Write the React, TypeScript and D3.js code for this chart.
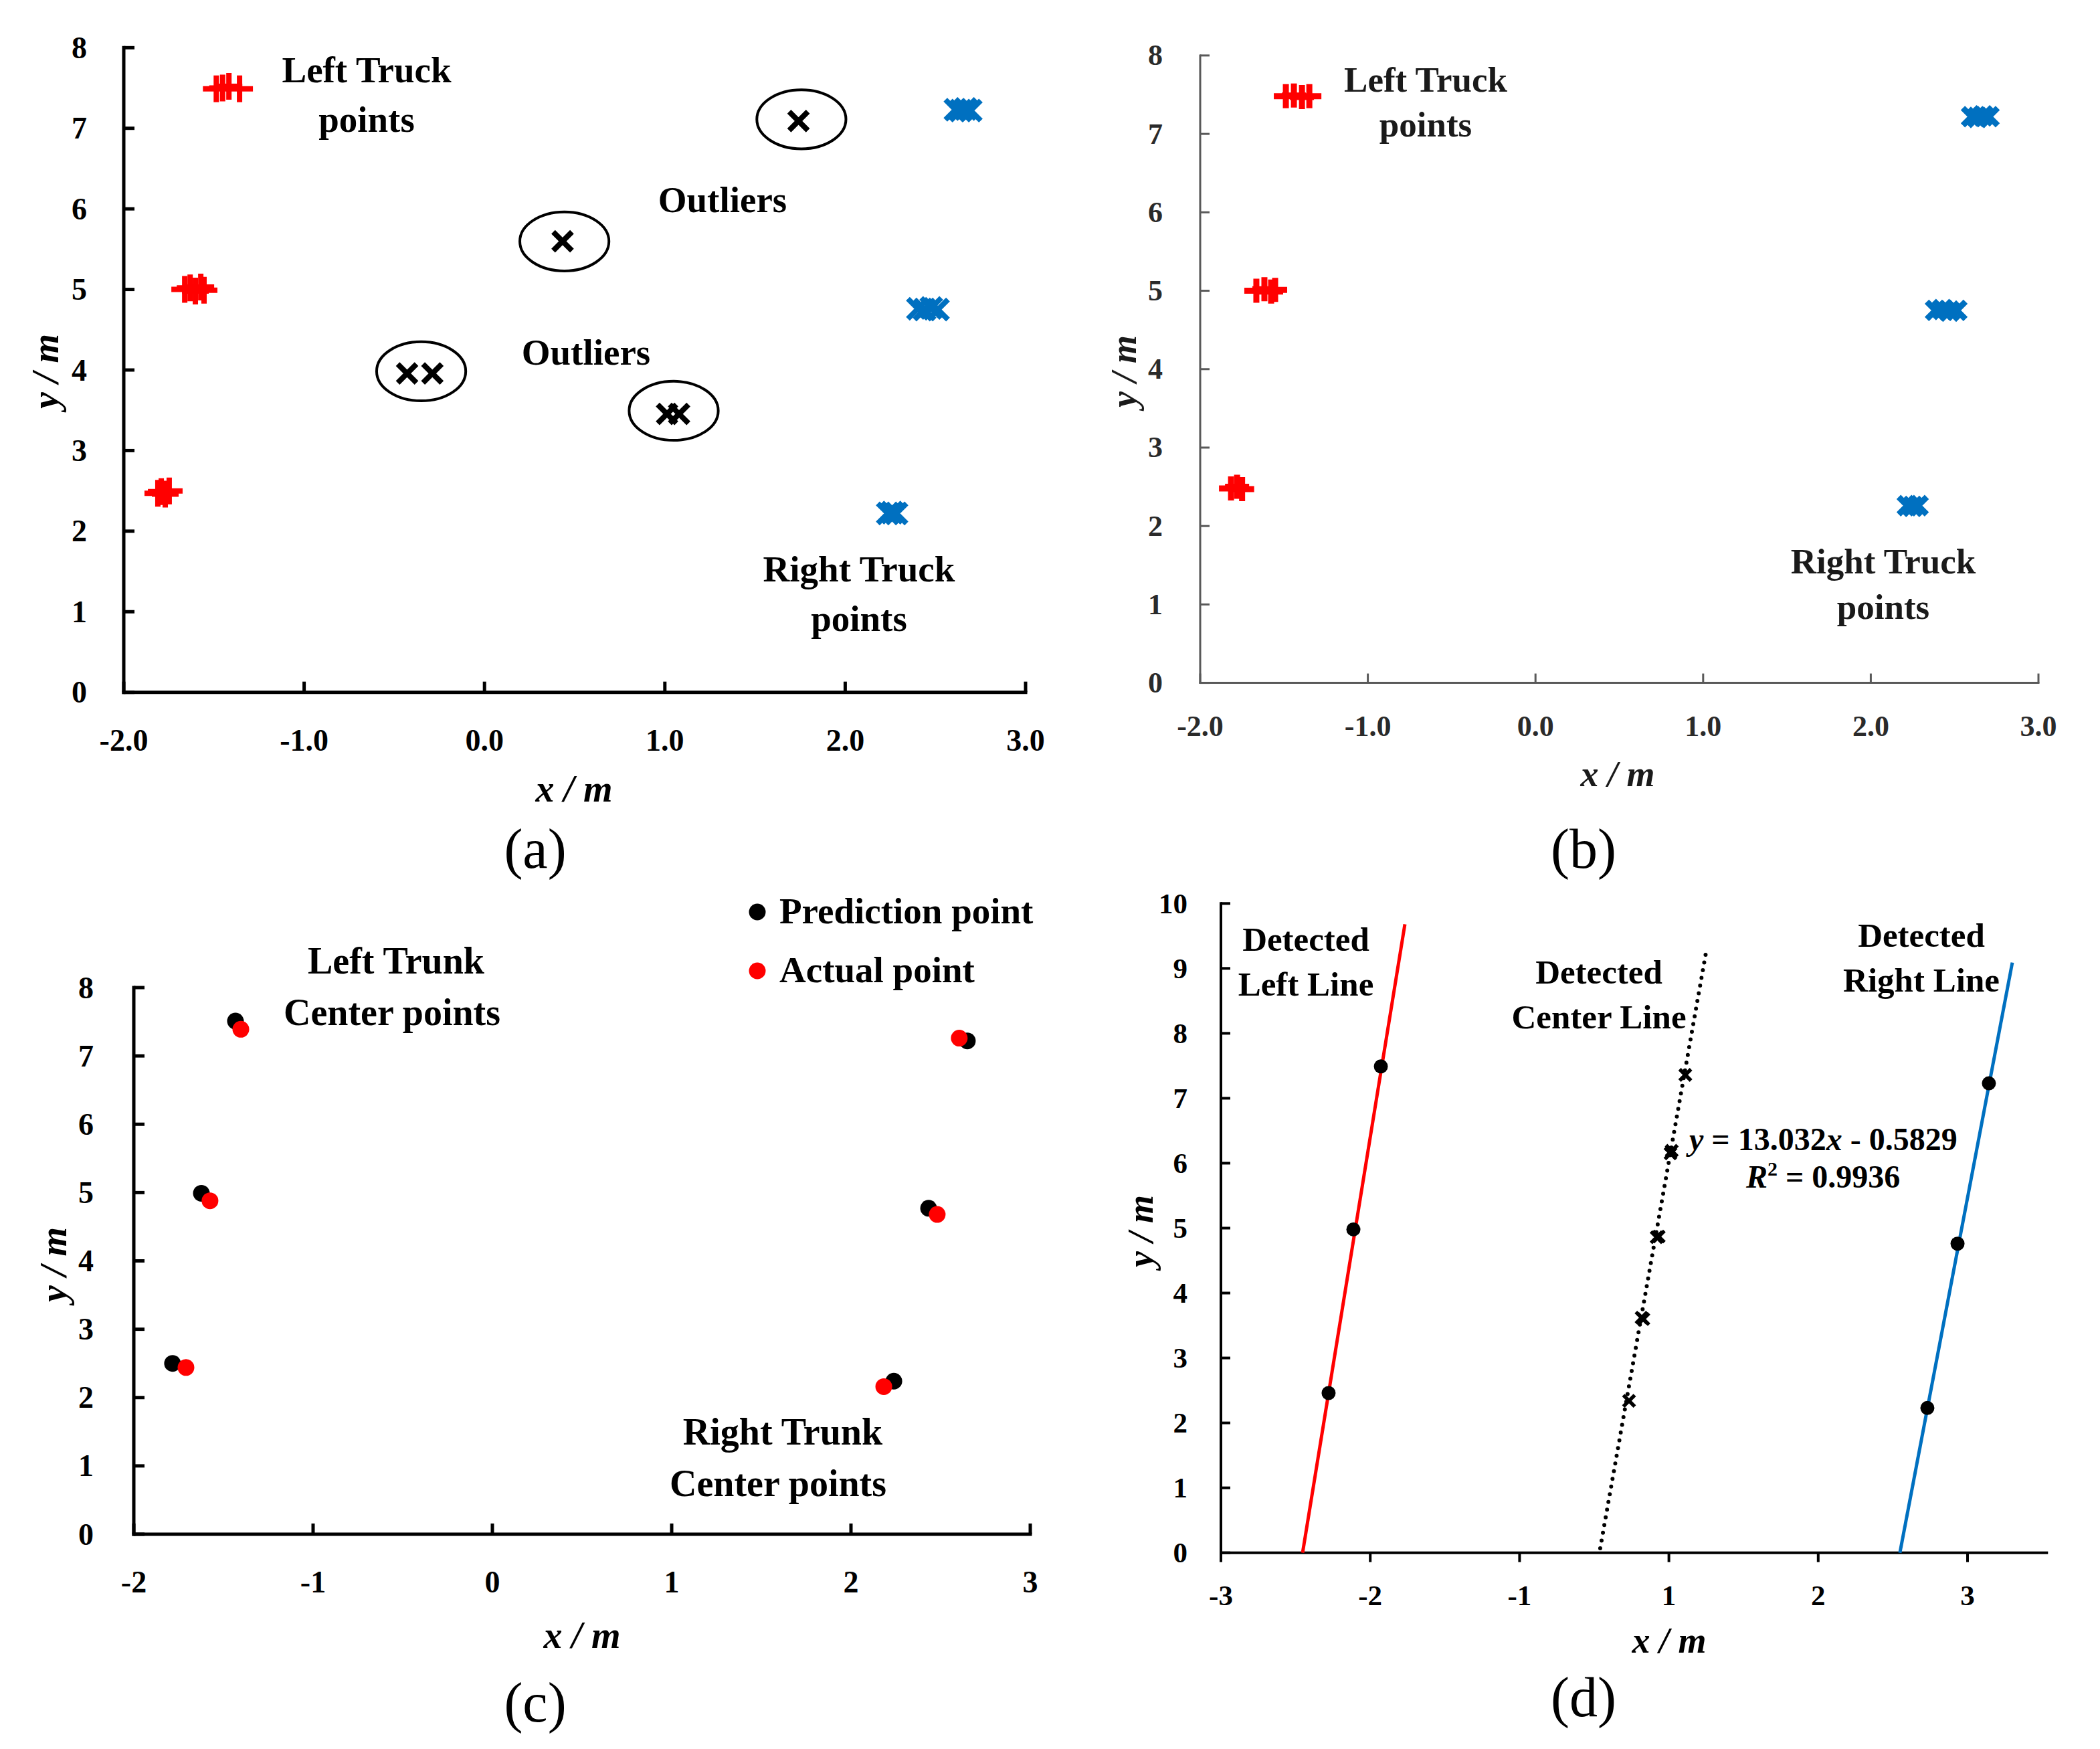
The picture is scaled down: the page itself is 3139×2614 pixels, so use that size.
import React from "react";
import * as d3 from "d3";

// ---------- DATA ----------
// Panel (a)
const aLeftTruck: [number, number][] = [
  [-1.487, 7.49], [-1.452, 7.5], [-1.417, 7.52], [-1.358, 7.49],
  [-1.662, 5.0], [-1.632, 5.02], [-1.603, 4.98], [-1.573, 5.03], [-1.555, 4.99],
  [-1.811, 2.47], [-1.792, 2.49], [-1.77, 2.46], [-1.748, 2.5],
];
const aRightTruck: [number, number][] = [
  [2.611, 7.23], [2.64, 7.22], [2.668, 7.24], [2.696, 7.22],
  [2.403, 4.76], [2.44, 4.75], [2.477, 4.77], [2.514, 4.75],
  [2.236, 2.22], [2.26, 2.23], [2.284, 2.22],
];
const aOutliers: [number, number][] = [
  [1.741, 7.09], [0.433, 5.598], [-0.429, 3.957], [-0.289, 3.957], [1.012, 3.455], [1.079, 3.455],
];
const aOutlierRings: [number, number][] = [
  [1.757, 7.111], [0.443, 5.596], [-0.351, 3.984], [1.049, 3.494],
];
const abXTicks = [-2, -1, 0, 1, 2, 3];
const abYTicks = [0, 1, 2, 3, 4, 5, 6, 7, 8];

// Panel (b)
const bLeftTruck: [number, number][] = [
  [-1.489, 7.48], [-1.441, 7.49], [-1.393, 7.47], [-1.349, 7.48],
  [-1.665, 5.0], [-1.617, 5.02], [-1.577, 4.99], [-1.553, 5.01],
  [-1.816, 2.48], [-1.78, 2.5], [-1.75, 2.47],
];
const bRightTruck: [number, number][] = [
  [2.601, 7.22], [2.636, 7.21], [2.67, 7.23], [2.705, 7.22],
  [2.386, 4.75], [2.428, 4.76], [2.47, 4.74], [2.513, 4.75],
  [2.218, 2.26], [2.25, 2.25], [2.282, 2.26],
];

// Panel (c)
const cPrediction: [number, number][] = [
  [-1.433, 7.51], [-1.623, 4.99], [-1.784, 2.5], [2.649, 7.22], [2.433, 4.77], [2.239, 2.24],
];
const cActual: [number, number][] = [
  [-1.403, 7.39], [-1.575, 4.88], [-1.709, 2.44], [2.604, 7.26], [2.481, 4.68], [2.183, 2.16],
];
const cXTicks = [-2, -1, 0, 1, 2, 3];
const cYTicks = [0, 1, 2, 3, 4, 5, 6, 7, 8];

// Panel (d)
const dLeftPts: [number, number][] = [[-2.279, 2.46], [-2.113, 4.98], [-1.929, 7.49]];
const dRightPts: [number, number][] = [[1.731, 2.23], [1.933, 4.76], [2.143, 7.23]];
const dCenterPts: [number, number][] = [
  [-0.267, 2.34], [-0.183, 3.62], [-0.171, 3.6], [-0.082, 4.86], [-0.068, 4.87],
  [0.011, 6.15], [0.019, 6.19], [0.11, 7.36],
];
const dLeftLine: [number, number][] = [[-2.453, 0], [-1.768, 9.68]];
const dCenterLine: [number, number][] = [[-0.46, 0.07], [0.248, 9.24]];
const dRightLine: [number, number][] = [[1.547, 0], [2.3, 9.09]];
const dXTicks = [-3, -2, -1, 0, 1, 2];
const dXTickLabels = ["-3", "-2", "-1", "1", "2", "3"];
const dYTicks = [0, 1, 2, 3, 4, 5, 6, 7, 8, 9, 10];

// ---------- STYLE ----------
const FONT = "'Liberation Serif', 'Times New Roman', serif";
const RED = "#FF0000";
const BLUE = "#0070C0";

type Lin = d3.ScaleLinear<number, number>;

function Axes(p: {
  x: Lin; y: Lin; xTicks: number[]; yTicks: number[];
  xFmt: (v: number, i: number) => string; yFmt: (v: number) => string;
  color: string; sw: number; tick: number; xTickDown?: boolean;
  fs: number; xLabOff: number; yLabOff: number; textColor: string;
}) {
  const [x0, x1] = p.x.range();
  const [y0, y1] = p.y.range();
  return (
    <g>
      <line x1={x0} x2={x1} y1={y0} y2={y0} stroke={p.color} strokeWidth={p.sw} strokeLinecap="square" />
      <line x1={x0} x2={x0} y1={y0} y2={y1} stroke={p.color} strokeWidth={p.sw} strokeLinecap="square" />
      {p.xTicks.map((t) => (
        <line key={"xt" + t} x1={p.x(t)} x2={p.x(t)} y1={y0} y2={p.xTickDown ? y0 + p.tick : y0 - p.tick}
          stroke={p.color} strokeWidth={p.sw} />
      ))}
      {p.yTicks.map((t) => (
        <line key={"yt" + t} x1={x0} x2={x0 + p.tick} y1={p.y(t)} y2={p.y(t)} stroke={p.color} strokeWidth={p.sw} />
      ))}
      {p.xTicks.map((t, i) => (
        <text key={"xl" + t} x={p.x(t)} y={y0 + p.xLabOff} textAnchor="middle" dominantBaseline="central"
          fontFamily={FONT} fontWeight="bold" fontSize={p.fs} fill={p.textColor}>{p.xFmt(t, i)}</text>
      ))}
      {p.yTicks.map((t) => (
        <text key={"yl" + t} x={x0 - p.yLabOff} y={p.y(t)} textAnchor="end" dominantBaseline="central"
          fontFamily={FONT} fontWeight="bold" fontSize={p.fs} fill={p.textColor}>{p.yFmt(t)}</text>
      ))}
    </g>
  );
}

const plusPath = (a: number) => `M${-a},0H${a}M0,${-a}V${a}`;
const xPath = (d: number) => `M${-d},${-d}L${d},${d}M${-d},${d}L${d},${-d}`;

function Label(p: { x: number; y: number; lines: string[]; gap: number; fs: number; fill?: string; anchor?: string }) {
  return (
    <g>
      {p.lines.map((s, i) => (
        <text key={i} x={p.x} y={p.y + i * p.gap} textAnchor={p.anchor || "middle"} fontFamily={FONT}
          fontWeight="bold" fontSize={p.fs} fill={p.fill || "#000"}>{s}</text>
      ))}
    </g>
  );
}

function AxisTitle(p: { x: number; y: number; rotate?: boolean; fs: number; fill?: string }) {
  return (
    <text x={p.x} y={p.y} textAnchor="middle" dominantBaseline="central" fontFamily={FONT}
      fontWeight="bold" fontStyle="italic" fontSize={p.fs} fill={p.fill || "#000"}
      transform={p.rotate ? `rotate(-90 ${p.x} ${p.y})` : undefined}>
      {p.rotate ? "y / m" : "x / m"}
    </text>
  );
}

const fmt1 = (v: number) => d3.format(".1f")(v).replace("\u2212", "-");
const fmt0 = (v: number) => d3.format("d")(v).replace("\u2212", "-");

export default function App() {
  // Panel a
  const ax = d3.scaleLinear().domain([-2, 3]).range([185, 1533]);
  const ay = d3.scaleLinear().domain([0, 8]).range([1034.7, 71.3]);
  // Panel b
  const bx = d3.scaleLinear().domain([-2, 3]).range([1794, 3047]);
  const by = d3.scaleLinear().domain([0, 8]).range([1020.6, 82.9]);
  // Panel c
  const cx = d3.scaleLinear().domain([-2, 3]).range([200, 1540]);
  const cy = d3.scaleLinear().domain([0, 8]).range([2293, 1476]);
  // Panel d
  const dx = d3.scaleLinear().domain([-3, 2.53]).range([1825, 1825 + 5.53 * 223.2]);
  const dy = d3.scaleLinear().domain([0, 10]).range([2320.7, 1350.3]);
  const line = (xs: Lin, ys: Lin) => d3.line<[number, number]>().x((d) => xs(d[0])).y((d) => ys(d[1]));

  const pxPerXa = ax(1) - ax(0);
  const pxPerYa = ay(0) - ay(1);

  return (
    <svg width={3139} height={2614} style={{ position: "absolute", left: 0, top: 0, background: "#fff" }}>
      <rect width={3139} height={2614} fill="#fff" />
      {/* ---------- Panel (a) ---------- */}
      <Axes x={ax} y={ay} xTicks={abXTicks} yTicks={abYTicks} xFmt={(v) => fmt1(v)} yFmt={fmt0}
        color="#000" sw={5} tick={16} fs={46} xLabOff={72} yLabOff={55} textColor="#000" />
      {aLeftTruck.map((d, i) => (
        <path key={"al" + i} d={plusPath(20)} transform={`translate(${ax(d[0])},${ay(d[1])})`}
          stroke={RED} strokeWidth={8} fill="none" />
      ))}
      {aRightTruck.map((d, i) => (
        <path key={"ar" + i} d={xPath(15)} transform={`translate(${ax(d[0])},${ay(d[1])})`}
          stroke={BLUE} strokeWidth={8} fill="none" />
      ))}
      {aOutliers.map((d, i) => (
        <path key={"ao" + i} d={xPath(14)} transform={`translate(${ax(d[0])},${ay(d[1])})`}
          stroke="#000" strokeWidth={8} fill="none" />
      ))}
      {aOutlierRings.map((d, i) => (
        <ellipse key={"ae" + i} cx={ax(d[0])} cy={ay(d[1])} rx={0.247 * pxPerXa} ry={0.366 * pxPerYa}
          stroke="#000" strokeWidth={4} fill="none" />
      ))}
      <Label x={548} y={123} lines={["Left Truck", "points"]} gap={74} fs={55} />
      <Label x={1080} y={317} lines={["Outliers"]} gap={0} fs={55} />
      <Label x={876} y={545} lines={["Outliers"]} gap={0} fs={55} />
      <Label x={1284} y={869} lines={["Right Truck", "points"]} gap={74} fs={55} />
      <AxisTitle x={68} y={555} rotate fs={56} />
      <AxisTitle x={858} y={1179} fs={56} />
      <text x={800} y={1268} textAnchor="middle" dominantBaseline="central" fontFamily={FONT} fontSize={84}>(a)</text>

      {/* ---------- Panel (b) ---------- */}
      <Axes x={bx} y={by} xTicks={abXTicks} yTicks={abYTicks} xFmt={(v) => fmt1(v)} yFmt={fmt0}
        color="#595959" sw={3} tick={14} fs={44} xLabOff={65} yLabOff={56} textColor="#2a2a2a" />
      {bLeftTruck.map((d, i) => (
        <path key={"bl" + i} d={plusPath(18)} transform={`translate(${bx(d[0])},${by(d[1])})`}
          stroke={RED} strokeWidth={9} fill="none" />
      ))}
      {bRightTruck.map((d, i) => (
        <path key={"br" + i} d={xPath(13)} transform={`translate(${bx(d[0])},${by(d[1])})`}
          stroke={BLUE} strokeWidth={9} fill="none" />
      ))}
      <Label x={2131} y={137} lines={["Left Truck", "points"]} gap={67} fs={53} fill="#1a1a1a" />
      <Label x={2815} y={857} lines={["Right Truck", "points"]} gap={68} fs={53} fill="#1a1a1a" />
      <AxisTitle x={1680} y={555} rotate fs={54} fill="#1a1a1a" />
      <AxisTitle x={2418} y={1157} fs={54} fill="#1a1a1a" />
      <text x={2367} y={1268} textAnchor="middle" dominantBaseline="central" fontFamily={FONT} fontSize={84}>(b)</text>

      {/* ---------- Panel (c) ---------- */}
      <Axes x={cx} y={cy} xTicks={cXTicks} yTicks={cYTicks} xFmt={(v) => fmt0(v)} yFmt={fmt0}
        color="#000" sw={5} tick={16} fs={46} xLabOff={71} yLabOff={60} textColor="#000" />
      {cPrediction.map((d, i) => (
        <circle key={"cp" + i} cx={cx(d[0])} cy={cy(d[1])} r={12.5} fill="#000" />
      ))}
      {cActual.map((d, i) => (
        <circle key={"ca" + i} cx={cx(d[0])} cy={cy(d[1])} r={12.5} fill={RED} />
      ))}
      <circle cx={1132} cy={1363} r={12.5} fill="#000" />
      <text x={1165} y={1380} fontFamily={FONT} fontWeight="bold" fontSize={55}>Prediction point</text>
      <circle cx={1132} cy={1451} r={12.5} fill={RED} />
      <text x={1165} y={1468} fontFamily={FONT} fontWeight="bold" fontSize={55}>Actual point</text>
      <Label x={592} y={1455} lines={["Left Trunk"]} gap={0} fs={56} />
      <Label x={586} y={1532} lines={["Center points"]} gap={0} fs={56} />
      <Label x={1170} y={2159} lines={["Right Trunk"]} gap={0} fs={56} />
      <Label x={1163} y={2236} lines={["Center points"]} gap={0} fs={56} />
      <AxisTitle x={80} y={1890} rotate fs={56} />
      <AxisTitle x={870} y={2444} fs={56} />
      <text x={800} y={2544} textAnchor="middle" dominantBaseline="central" fontFamily={FONT} fontSize={84}>(c)</text>

      {/* ---------- Panel (d) ---------- */}
      <Axes x={dx} y={dy} xTicks={dXTicks} yTicks={dYTicks} xFmt={(_v, i) => dXTickLabels[i]} yFmt={fmt0}
        color="#000" sw={4} tick={14} xTickDown fs={43} xLabOff={64} yLabOff={50} textColor="#000" />
      <path d={line(dx, dy)(dLeftLine) || ""} stroke={RED} strokeWidth={5} fill="none" />
      <path d={line(dx, dy)(dRightLine) || ""} stroke={BLUE} strokeWidth={5} fill="none" />
      <path d={line(dx, dy)(dCenterLine) || ""} stroke="#000" strokeWidth={6} fill="none"
        strokeDasharray="0 11.7" strokeLinecap="round" />
      {dLeftPts.concat(dRightPts).map((d, i) => (
        <circle key={"dp" + i} cx={dx(d[0])} cy={dy(d[1])} r={10.5} fill="#000" />
      ))}
      {dCenterPts.map((d, i) => (
        <path key={"dc" + i} d={xPath(8.5)} transform={`translate(${dx(d[0])},${dy(d[1])})`}
          stroke="#000" strokeWidth={5.5} fill="none" />
      ))}
      <Label x={1952} y={1421} lines={["Detected", "Left Line"]} gap={67} fs={51} />
      <Label x={2390} y={1470} lines={["Detected", "Center Line"]} gap={67} fs={51} />
      <Label x={2872} y={1415} lines={["Detected", "Right Line"]} gap={67} fs={51} />
      <text x={2525} y={1719} fontFamily={FONT} fontWeight="bold" fontSize={48}>
        <tspan fontStyle="italic">y</tspan> = 13.032<tspan fontStyle="italic">x</tspan> - 0.5829
      </text>
      <text x={2610} y={1775} fontFamily={FONT} fontWeight="bold" fontSize={48}>
        <tspan fontStyle="italic">R</tspan><tspan fontSize={30} dy={-18}>2</tspan><tspan dy={18}> = 0.9936</tspan>
      </text>
      <AxisTitle x={1705} y={1840} rotate fs={54} />
      <AxisTitle x={2495} y={2452} fs={54} />
      <text x={2367} y={2536} textAnchor="middle" dominantBaseline="central" fontFamily={FONT} fontSize={84}>(d)</text>
    </svg>
  );
}
